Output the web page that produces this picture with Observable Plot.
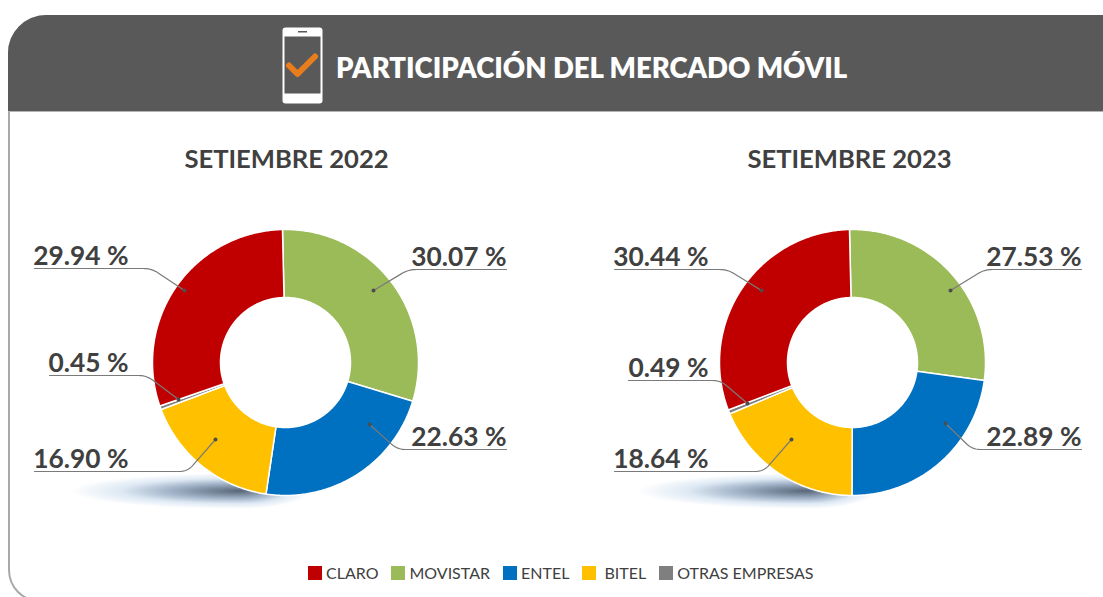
<!DOCTYPE html>
<html><head><meta charset="utf-8">
<script src="https://cdn.jsdelivr.net/npm/d3@7"></script>
<script src="https://cdn.jsdelivr.net/npm/@observablehq/plot@0.6"></script>
<style>
html,body{margin:0;padding:0;background:#fff;}
#stage{position:relative;width:1103px;height:597px;overflow:hidden;font-family:Lato,sans-serif;}
#frame{position:absolute;left:8px;top:15px;width:1200px;height:587px;border:2px solid #a9a9a9;border-radius:38px 0 0 32px;box-sizing:border-box;}
#header{position:absolute;left:8px;top:15px;width:1200px;height:97px;background:#595959;border-radius:38px 0 0 0;border-bottom:1px solid #b3b3b3;box-sizing:border-box;}
#title{position:absolute;left:336px;top:49px;color:#fff;font:800 27.5px Lato,sans-serif;white-space:nowrap;line-height:38px;}
.sh{position:absolute;top:473px;height:36px;}
.sh.l{width:170px;background:radial-gradient(ellipse 170px 18px at 100% 50%,rgba(70,85,105,.9),rgba(95,125,160,.6) 40%,rgba(150,185,220,.32) 70%,rgba(190,215,240,0) 100%);}
.sh.r{width:70px;background:radial-gradient(ellipse 70px 18px at 0% 50%,rgba(70,85,105,.9),rgba(95,125,160,.6) 40%,rgba(150,185,220,.32) 70%,rgba(190,215,240,0) 100%);}
#phone{position:absolute;left:282px;top:27px;}
#plot{position:absolute;left:0;top:0;}
#legend{position:absolute;left:308px;top:556px;}
#legend span{margin-right:13px !important;margin-left:0 !important;}
#legend span > svg{margin-right:4px !important;}
</style></head><body>
<div id="stage">
<div id="frame"></div>
<div id="header"></div>
<svg id="phone" width="41" height="77" viewBox="0 0 41 77">
<rect x="0.5" y="0.5" width="40" height="76" rx="3" fill="#fff"/>
<rect x="2.5" y="9.5" width="36" height="57" fill="#595959"/>
<rect x="16" y="4" width="9" height="1.5" fill="#595959"/>
<path d="M7 38.5 L15.5 47 L33 29.5" fill="none" stroke="#E87D1E" stroke-width="6" stroke-linecap="round" stroke-linejoin="round"/>
</svg>
<div id="title">PARTICIPACIÓN DEL MERCADO MÓVIL</div>
<div class="sh l" style="left:70px"></div><div class="sh r" style="left:240px"></div>
<div class="sh l" style="left:637px"></div><div class="sh r" style="left:807px"></div>
<div id="plot"></div>
<div id="legend"></div>
</div>
<script>
const companies = ["CLARO","MOVISTAR","ENTEL","BITEL","OTRAS EMPRESAS"];
const companyColors = ["#C00000","#9BBB59","#0070C0","#FFC000","#7F7F7F"];
const periods = ["SETIEMBRE 2022","SETIEMBRE 2023"];
const shares2022 = [29.94,30.07,22.63,16.90,0.45];
const shares2023 = [30.44,27.53,22.89,18.64,0.49];
const sharesByPeriod = [shares2022,shares2023];
// clockwise drawing order, from 12 o'clock
const sliceOrder = ["MOVISTAR","ENTEL","BITEL","OTRAS EMPRESAS","CLARO"];

// layout only (pixel space): donut placement and the hand-placed leader annotations
const donutCentres = [[285,362],[852,362]];
const outerR = 133, innerR = 65, startDeg = -1.3;
const leaderLayout = [
 {CLARO:{x0:34,x1:128,y:268,elbow:151,dot:[184,290]},MOVISTAR:{x0:506,x1:411,y:269,elbow:408,dot:[373,290]},ENTEL:{x0:506,x1:411,y:449,elbow:397,dot:[369,424]},BITEL:{x0:34,x1:128,y:471,elbow:187,dot:[215,439]},"OTRAS EMPRESAS":{x0:49,x1:128,y:375,elbow:146,dot:[178,399]}},
 {CLARO:{x0:614,x1:708,y:269,elbow:727,dot:[761,290]},MOVISTAR:{x0:1081,x1:987,y:269,elbow:984,dot:[950,290]},ENTEL:{x0:1081,x1:987,y:449,elbow:972,dot:[945,423]},BITEL:{x0:614,x1:708,y:471,elbow:763,dot:[791,439]},"OTRAS EMPRESAS":{x0:628,x1:708,y:380,elbow:720,dot:[747,403]}}
];

const slicePts = [], leaderPts = [], dots = [], labels = [], heads = [];
periods.forEach((period,pi)=>{
  const [cx,cy] = donutCentres[pi];
  const shares = sharesByPeriod[pi];
  const valueOf = c => shares[companies.indexOf(c)];
  const total = d3.sum(shares);
  heads.push({text:period,x:cx+(pi?-3:1),y:159});
  let acc = 0;
  sliceOrder.forEach(c=>{
    const v = valueOf(c);
    const a0 = (startDeg + acc/total*360)*Math.PI/180;
    const a1 = (startDeg + (acc+v)/total*360)*Math.PI/180;
    acc += v;
    const n = Math.max(2,Math.ceil((a1-a0)/0.01));
    const key = period+c;
    const ring = [];
    for(let i=0;i<=n;i++){const a=a0+(a1-a0)*i/n;ring.push([cx+outerR*Math.sin(a),cy-outerR*Math.cos(a)]);}
    for(let i=n;i>=0;i--){const a=a0+(a1-a0)*i/n;ring.push([cx+innerR*Math.sin(a),cy-innerR*Math.cos(a)]);}
    ring.push(ring[0]);
    ring.forEach(p=>slicePts.push({x:p[0],y:p[1],key,company:c}));
    // leader: underline, rounded elbow, slanted run to the dot
    const L = leaderLayout[pi][c];
    const dir = Math.sign(L.dot[0]-L.elbow);
    const corner = [L.elbow,L.y];
    const cornerStart = [L.elbow-dir*8,L.y];
    const dxT = L.dot[0]-corner[0], dyT = L.dot[1]-corner[1];
    const len = Math.hypot(dxT,dyT);
    const cornerEnd = [corner[0]+dxT/len*8,corner[1]+dyT/len*8];
    leaderPts.push({x:L.x0,y:L.y,key});
    for(let i=0;i<=10;i++){
      const t=i/10;
      leaderPts.push({x:(1-t)*(1-t)*cornerStart[0]+2*t*(1-t)*corner[0]+t*t*cornerEnd[0],
                      y:(1-t)*(1-t)*cornerStart[1]+2*t*(1-t)*corner[1]+t*t*cornerEnd[1],key});
    }
    leaderPts.push({x:L.dot[0],y:L.dot[1],key});
    dots.push({x:L.dot[0],y:L.dot[1]});
    labels.push({text:d3.format(".2f")(v)+" %",x:Math.max(L.x0,L.x1),y:L.y-12});
  });
});

const chart = Plot.plot({
  width:1103,height:597,margin:0,
  style:{background:"transparent",fontFamily:"Lato,sans-serif"},
  x:{domain:[0,1103],range:[0,1103],axis:null},
  y:{domain:[0,597],range:[0,597],axis:null},
  color:{domain:companies,range:companyColors},
  marks:[
    Plot.line(slicePts,{x:"x",y:"y",z:"key",fill:"company",stroke:"#fff",strokeWidth:1.5,strokeLinejoin:"round"}),
    Plot.line(leaderPts,{x:"x",y:"y",z:"key",stroke:"#7a7a7a",strokeWidth:1.2}),
    Plot.dot(dots,{x:"x",y:"y",r:2,fill:"#4d4d4d"}),
    Plot.text(labels,{x:"x",y:"y",text:"text",textAnchor:"end",fill:"#404040",fontSize:26.3,fontWeight:700}),
    Plot.text(heads,{x:"x",y:"y",text:"text",fill:"#404040",fontSize:25.6,fontWeight:700})
  ]
});
document.getElementById("plot").appendChild(chart);
const lg = Plot.legend({color:{domain:companies,range:companyColors},legend:"swatches",swatchSize:14,
  tickFormat:d=>d==="BITEL"?"\u00A0BITEL":d,
  style:{fontSize:"16px",fontFamily:"Lato,sans-serif",color:"#404040",background:"transparent"}});
document.getElementById("legend").appendChild(lg);
</script>
</body></html>
